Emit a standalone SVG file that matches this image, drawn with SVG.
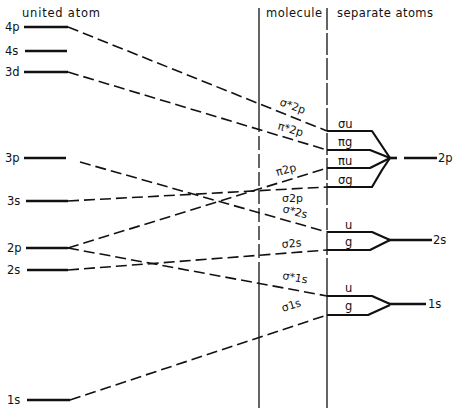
<svg xmlns="http://www.w3.org/2000/svg" width="455" height="408" viewBox="0 0 455 408">
<style>
text{font-family:"DejaVu Sans","Liberation Sans",sans-serif;fill:#111;}
.hdr{font-size:11.5px;}
.lbl{font-size:11.5px;}
.mo{font-size:11px;}
.lev{stroke:#111;stroke-width:2.6;fill:none;}
.sep{stroke:#111;stroke-width:2.2;fill:none;stroke-linejoin:round;}
.corr{stroke:#111;stroke-width:1.6;fill:none;stroke-dasharray:11 5;}
.vline{stroke:#111;stroke-width:1.3;fill:none;}
</style>
<rect width="455" height="408" fill="#fff"/>
<g id="headers">
<text class="hdr" x="22" y="17" textLength="78" lengthAdjust="spacing">united atom</text>
<text class="hdr" x="266" y="17" textLength="56" lengthAdjust="spacing">molecule</text>
<text class="hdr" x="337" y="17" textLength="96" lengthAdjust="spacing">separate atoms</text>
</g>
<g id="dividers">
<path class="vline" d="M259 8 V118"/>
<path class="vline" d="M259 118 V270" stroke-dasharray="14 4"/>
<path class="vline" d="M259 270 V408"/>
<path class="vline" d="M327 8 V270" stroke-dasharray="22 3"/>
<path class="vline" d="M327 270 V408"/>
</g>
<g id="united-4p"><path class="lev" d="M24 27 H68"/><text class="lbl" x="5" y="31">4p</text></g>
<g id="united-4s"><path class="lev" d="M25 51 H67"/><text class="lbl" x="5" y="55">4s</text></g>
<g id="united-3d"><path class="lev" d="M24 72 H68"/><text class="lbl" x="5" y="76">3d</text></g>
<g id="united-3p"><path class="lev" d="M24 158 H66"/><text class="lbl" x="5" y="162">3p</text></g>
<g id="united-3s"><path class="lev" d="M26 201 H68"/><text class="lbl" x="7" y="205">3s</text></g>
<g id="united-2p"><path class="lev" d="M26 248 H68"/><text class="lbl" x="7" y="252">2p</text></g>
<g id="united-2s"><path class="lev" d="M27 270 H68"/><text class="lbl" x="7" y="274">2s</text></g>
<g id="united-1s"><path class="lev" d="M27 400 H70"/><text class="lbl" x="7" y="404">1s</text></g>
<g id="connectors">
<path class="corr" d="M68 27 L327 131"/>
<path class="corr" d="M68 72 L327 150"/>
<path class="corr" d="M80 162 L327 232"/>
<path class="corr" d="M68 201 L327 187"/>
<path class="corr" d="M68 248 L327 168"/>
<path class="corr" d="M68 248 L327 296"/>
<path class="corr" d="M68 270 L327 250"/>
<path class="corr" d="M70 400 L327 315"/>
</g>
<g id="mo-labels">
<text class="mo" x="0" y="0" transform="translate(279,105) rotate(20)">σ*2p</text>
<text class="mo" x="0" y="0" transform="translate(277,129) rotate(17)">π*2p</text>
<text class="mo" x="0" y="0" transform="translate(277,176) rotate(-15)">π2p</text>
<text class="mo" x="282" y="202">σ2p</text>
<text class="mo" x="0" y="0" transform="translate(282,212) rotate(15)">σ*2s</text>
<text class="mo" x="0" y="0" transform="translate(282,248) rotate(-5)">σ2s</text>
<text class="mo" x="0" y="0" transform="translate(282,279) rotate(10)">σ*1s</text>
<text class="mo" x="0" y="0" transform="translate(283,312) rotate(-18)">σ1s</text>
</g>
<g id="separate-2p">
<path class="sep" d="M327 131 H372 L390 158"/>
<path class="sep" d="M327 150 H370 L390 158"/>
<path class="sep" d="M327 168 H370 L390 158"/>
<path class="sep" d="M327 187 H372 L382 170 L390 158"/>
<path class="lev" d="M389 158 H397"/>
<path class="lev" d="M404 158 H437"/>
<text class="lbl" x="338" y="128">σu</text>
<text class="lbl" x="338" y="146">πg</text>
<text class="lbl" x="338" y="165">πu</text>
<text class="lbl" x="338" y="184">σg</text>
<text class="lbl" x="438" y="162">2p</text>
</g>
<g id="separate-2s">
<path class="sep" d="M327 232 H372 L390 240"/>
<path class="sep" d="M327 250 H370 L390 240"/>
<path class="lev" d="M389 240 H432"/>
<text class="lbl" x="345" y="229">u</text>
<text class="lbl" x="345" y="246">g</text>
<text class="lbl" x="433" y="244">2s</text>
</g>
<g id="separate-1s">
<path class="sep" d="M327 296 H372 L390 304"/>
<path class="sep" d="M327 315 H368 L390 305"/>
<path class="lev" d="M389 304 H426"/>
<text class="lbl" x="345" y="292">u</text>
<text class="lbl" x="345" y="310">g</text>
<text class="lbl" x="428" y="308">1s</text>
</g>
</svg>
